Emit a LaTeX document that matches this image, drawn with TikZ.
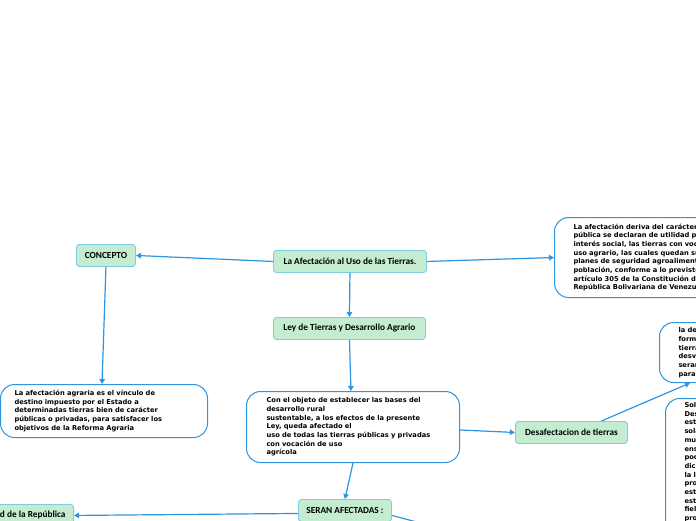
\documentclass[tikz,border=0pt]{standalone}
\usepackage{fontspec}
\setmainfont{DejaVu Sans}
\newfontfamily\lblfont{Carlito}
\usetikzlibrary{arrows.meta}
\definecolor{linec}{RGB}{45,150,225}
\definecolor{greenfill}{RGB}{195,236,208}
\definecolor{greenborder}{RGB}{125,205,225}
\definecolor{boxborder}{RGB}{45,150,225}
\begin{document}
\begin{tikzpicture}[x=1pt,y=-1pt,
 topic/.style={draw=greenborder, fill=greenfill, rounded corners=3pt, line width=0.9pt,
   font=\lblfont\bfseries\fontsize{9.3}{11}\selectfont, inner sep=0pt, anchor=north west, align=center},
 note/.style={draw=boxborder, fill=white, rounded corners=14pt, line width=1pt,
   font=\bfseries\fontsize{6.7}{8.7}\selectfont, align=left, inner ysep=0pt, anchor=north west},
 conn/.style={draw=linec, line width=1.2pt, -{Triangle[length=5pt,width=5.5pt]}},
]
\fill[white] (0,0) rectangle (696,520);
\useasboundingbox (0,0) rectangle (696,520);
\clip (0,0) rectangle (696,520);

\node[topic, minimum width=59pt, minimum height=22pt] (concepto) at (76,244) {CONCEPTO};
\node[topic, minimum width=153pt, minimum height=22pt] (main) at (273,250) {La Afectación al Uso de las Tierras.};
\node[topic, minimum width=152pt, minimum height=22pt] (ley) at (273,317) {Ley de Tierras y Desarrollo Agrario};
\node[topic, minimum width=112pt, minimum height=22pt] (desaf) at (515,421) {Desafectacion de tierras};
\node[topic, minimum width=93pt, minimum height=22pt] (seran) at (298,499) {SERAN AFECTADAS :};
\node[topic, anchor=north east, minimum height=22pt, inner xsep=8pt] (tierras) at (74,504) {Las tierras propiedad de la República};

\node[note, text width=220pt, inner xsep=19pt, minimum height=80pt] (rtop) at (554,217)
 {La afectación deriva del carácter de\\
  pública se declaran de utilidad pública e\\
  interés social, las tierras con vocación de\\
  uso agrario, las cuales quedan sujetas a los\\
  planes de seguridad agroalimentaria de la\\
  población, conforme a lo previsto en el\\
  artículo 305 de la Constitución de la\\
  República Bolivariana de Venezuela};
\node[note, text width=179pt, inner xsep=14pt, minimum height=53pt] (lbot) at (0,384)
 {La afectación agraria es el vínculo de\\
  destino impuesto por el Estado a\\
  determinadas tierras bien de carácter\\
  públicas o privadas, para satisfacer los\\
  objetivos de la Reforma Agraria};
\node[note, text width=173pt, inner xsep=20pt, minimum height=71pt] (mid) at (246,391)
 {Con el objeto de establecer las bases del\\
  desarrollo rural\\
  sustentable, a los efectos de la presente\\
  Ley, queda afectado el\\
  uso de todas las tierras públicas y privadas\\
  con vocación de uso\\
  agrícola};
\node[note, text width=100pt, inner xsep=19pt, minimum height=60pt] (rmid) at (659,322)
 {la declaratoria\\
  formal de las\\
  tierras\\
  desvinculadas\\
  seran\\
  para};
\node[note, text width=100pt, inner xsep=19pt, inner ysep=4pt] (rbot) at (665,398)
 {Solo\\ Desde\\ esta\\ sola\\ mun\\ ens\\ pod\\ dich\\ la le\\ prop\\ esta\\ esta\\ fiel\\ prop\\ de};

\coordinate (offs) at (470,536);
\draw[conn] (main.west) -- (concepto.east);
\draw[conn] (main.east) -- (rtop.west);
\draw[conn] (main.south) -- (ley.north);
\draw[conn] (concepto.south) -- ([xshift=-2pt]lbot.north);
\draw[conn] (ley.south) -- ([xshift=-2pt]mid.north);
\draw[conn] ([yshift=-3pt]mid.east) -- (desaf.west);
\draw[conn] ([xshift=30pt]desaf.north) -- ([xshift=31pt]rmid.south west);
\draw[conn] (mid.south) -- (seran.north);
\draw[conn] ([yshift=-3pt]seran.west) -- (tierras.east);
\draw[conn] ([yshift=-5pt]seran.east) -- (offs);
\end{tikzpicture}
\end{document}
